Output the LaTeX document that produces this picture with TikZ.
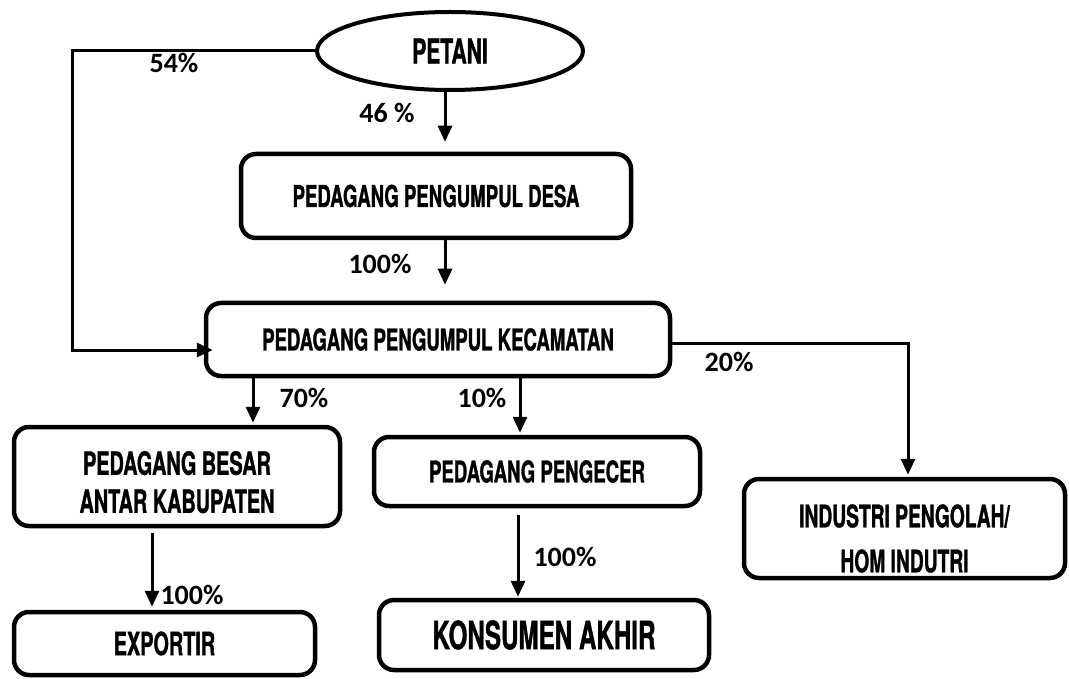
\documentclass[tikz,border=0pt]{standalone}
\usepackage{fontspec}
\usetikzlibrary{arrows.meta,shapes.geometric}
\newfontfamily\boxfont[FakeStretch=0.62,BoldFeatures={FakeBold=1}]{TeX Gyre Heros}
\newfontfamily\pctfont{Carlito}
\newcommand{\bfs}[2]{\boxfont\bfseries\fontsize{#1}{#2}\selectfont}
\begin{document}
\begin{tikzpicture}[x=1pt,y=-1pt,
  box/.style={draw=black,line width=4.5pt,rounded corners=15pt,inner sep=0pt,align=center},
  oval/.style={draw=black,line width=4pt,ellipse,inner sep=0pt},
  arr/.style={line width=3pt,-{Triangle[width=14pt,length=16pt]}},
  pct/.style={inner sep=0pt,font=\pctfont\bfseries\fontsize{28}{30}\selectfont}]
\useasboundingbox (0,0) rectangle (1069,679);
% nodes
\node[oval,minimum width=266pt,minimum height=78pt,font=\bfs{34}{38}] (petani) at (450,51) {PETANI};
\node[box,minimum width=390pt,minimum height=84pt,font=\bfs{30}{34}] (desa) at (436,196) {PEDAGANG PENGUMPUL DESA};
\node[box,minimum width=464pt,minimum height=73pt,font=\bfs{30}{34}] (kec) at (438,339.5) {PEDAGANG PENGUMPUL KECAMATAN};
\node[box,minimum width=326pt,minimum height=99pt,font=\bfs{32}{38}] (besar) at (177,476.5) {\rule{0pt}{35pt}PEDAGANG BESAR\\ANTAR KABUPATEN};
\node[box,minimum width=301pt,minimum height=63pt,font=\bfs{32}{38}] (exportir) at (164.5,643.5) {EXPORTIR};
\node[box,minimum width=326pt,minimum height=69pt,font=\bfs{30}{34}] (pengecer) at (537,471.5) {PEDAGANG PENGECER};
\node[box,minimum width=330pt,minimum height=70pt,font=\bfs{39}{44}] (konsumen) at (544,635) {KONSUMEN AKHIR};
\node[box,minimum width=321pt,minimum height=99pt,font=\bfs{31}{45}] (industri) at (904.5,528.5) {\rule{0pt}{43pt}INDUSTRI PENGOLAH/\\HOM INDUTRI};
% helper coordinates
\coordinate (k54) at (72,350);
\coordinate (x46) at (445,0);
\coordinate (x70) at (253,0);
\coordinate (x10) at (520,0);
\coordinate (xex) at (152,0);
\coordinate (xko) at (518,0);
\coordinate (c20) at (908,343);
% connectors
\draw[arr,shorten >=-9pt] (petani.west) -| (k54) -- (k54 -| kec.west);
\draw[arr,shorten >=10pt] (petani.south -| x46) -- (desa.north -| x46);
\draw[arr,shorten >=16pt] (desa.south -| x46) -- (kec.north -| x46);
\draw[arr,shorten >=2pt] (kec.east |- c20) -- (c20) -- (c20 |- industri.north);
\draw[arr,shorten >=2pt] (kec.south -| x70) -- (besar.north -| x70);
\draw[arr,shorten >=2pt] (kec.south -| x10) -- (pengecer.north -| x10);
\draw[arr,shorten <=5pt,shorten >=3pt] (besar.south -| xex) -- (exportir.north -| xex);
\draw[arr,shorten <=7pt,shorten >=1pt] (pengecer.south -| xko) -- (konsumen.north -| xko);
% labels
\node[pct] (l54) at (174,63) {54\%};
\node[pct] (l46) at (387,113) {46 \%};
\node[pct] (l100a) at (380,264) {100\%};
\node[pct] (l20) at (729,362) {20\%};
\node[pct] (l70) at (304,398) {70\%};
\node[pct] (l10) at (482,398) {10\%};
\node[pct] (l100b) at (192,595) {100\%};
\node[pct] (l100c) at (565,557) {100\%};
\end{tikzpicture}
\end{document}
